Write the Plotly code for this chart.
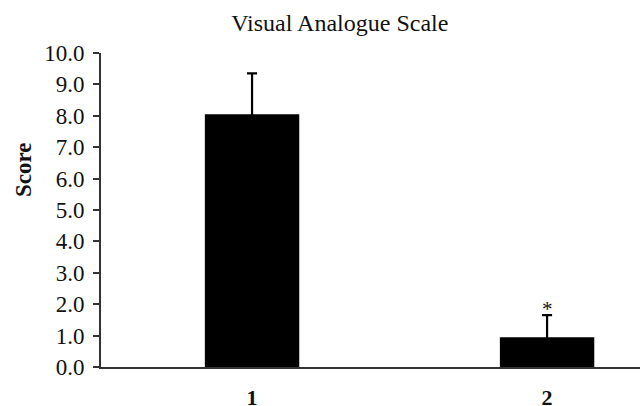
import plotly.graph_objects as go

categories = ["1", "2"]
scores = [8.05, 0.95]
errors = [1.3, 0.7]
ytick_vals = [0, 1, 2, 3, 4, 5, 6, 7, 8, 9, 10]
ytick_text = [f"{v:.1f}" for v in ytick_vals]
star_label = "*"

FONT = "Liberation Serif"

fig = go.Figure()
fig.add_trace(go.Bar(
    x=categories, y=scores, width=0.32,
    marker=dict(color="black", line=dict(width=0)),
    error_y=dict(type="data", array=errors, symmetric=True,
                 color="black", thickness=2.2, width=5),
    showlegend=False,
))

fig.add_annotation(x=1, y=scores[1] + errors[1], text=star_label,
                   showarrow=False, yanchor="bottom", yshift=-8,
                   font=dict(family=FONT, size=21, color="#111"))

fig.add_annotation(x=-0.145, y=0.63, xref="paper", yref="paper",
                   text="<b>Score</b>", textangle=-90, showarrow=False,
                   xanchor="center", yanchor="middle",
                   font=dict(family=FONT, size=23, color="#111"))

fig.update_layout(
    width=640, height=406,
    margin=dict(l=101, r=0, t=53, b=39, pad=0, autoexpand=False),
    paper_bgcolor="white", plot_bgcolor="white",
    font=dict(family=FONT, size=23, color="#111"),
    title=dict(text="Visual Analogue Scale", x=0.443, xref="paper", xanchor="center",
               y=1 - 23 / 406, yref="container", yanchor="middle",
               font=dict(family=FONT, size=24, color="#111")),
    xaxis=dict(type="category", range=[-0.512, 1.315], showgrid=False,
               showline=True, linecolor="#333", linewidth=2, automargin=False,
               ticks="", tickfont=dict(family=FONT, size=22, color="#111"),
               tickprefix="<b>", ticksuffix="</b>", ticklabelstandoff=10),
    yaxis=dict(range=[0, 10], tickvals=ytick_vals, ticktext=ytick_text,
               showgrid=False, zeroline=False, showline=True, linecolor="#333",
               linewidth=2, ticks="outside", ticklen=6, tickwidth=2, tickcolor="#333",
               automargin=False, ticklabelstandoff=4,
               tickfont=dict(family=FONT, size=23, color="#111")),
)

fig.write_html("out.html", config={"displayModeBar": False},
               post_script="document.body.style.margin='0';")
